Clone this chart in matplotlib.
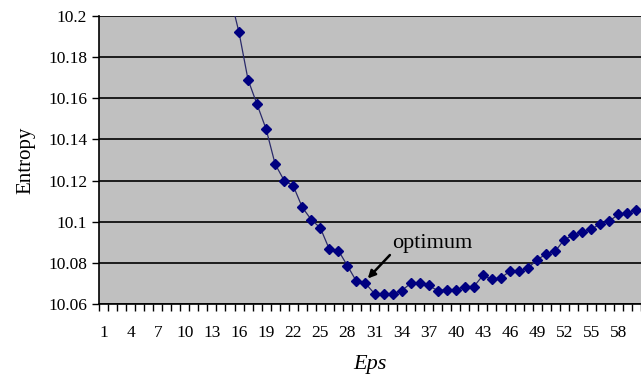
import numpy as np
import matplotlib.pyplot as plt
from matplotlib.ticker import FuncFormatter

# Entropy vs Eps (categories 1..60); points 1-14 lie above the visible range
eps = list(range(1, 61))
entropy = [None] * 14 + [
    10.210, 10.192, 10.169, 10.157, 10.145, 10.128, 10.120, 10.1175, 10.107, 10.101,
    10.097, 10.0866, 10.086, 10.0786, 10.071, 10.070, 10.065, 10.065, 10.065, 10.0665,
    10.070, 10.070, 10.069, 10.0665, 10.067, 10.067, 10.0685, 10.0685, 10.0739, 10.072,
    10.0727, 10.076, 10.076, 10.0775, 10.0815, 10.0843, 10.0856, 10.0913, 10.0934, 10.0948,
    10.0963, 10.099, 10.1003, 10.1036, 10.1041, 10.1057,
]
y_ticks = [10.06, 10.08, 10.1, 10.12, 10.14, 10.16, 10.18, 10.2]
x_labels = list(range(1, 61, 3))

plt.rcParams['font.family'] = ['Liberation Serif', 'DejaVu Serif']

fig = plt.figure(figsize=(6.41, 3.76), dpi=100)
ax = fig.add_axes([99 / 641, 1 - 304 / 376, 542 / 641, 288 / 376])
ax.set_facecolor('#c0c0c0')

y = np.array([np.nan if v is None else v for v in entropy])
ax.plot(eps, y, color='#2a2a6a', lw=0.9, marker='D', ms=5.2,
        mfc='#000080', mec='#000080', zorder=3)

ax.set_xlim(0.5, 60.5)
ax.set_ylim(10.06, 10.2)
ax.set_yticks(y_ticks)
ax.yaxis.set_major_formatter(FuncFormatter(lambda v, p: '%g' % round(v, 2)))
ax.grid(axis='y', color='black', lw=1.2)
ax.set_axisbelow(True)

# category axis: ticks between categories, labels every third category
ax.set_xticks(x_labels)
ax.set_xticklabels([str(v) for v in x_labels])
ax.set_xticks(np.arange(0.5, 61, 1), minor=True)
ax.tick_params(axis='x', which='major', length=0, pad=15, labelsize=12.5)
ax.tick_params(axis='x', which='minor', length=5, width=1, direction='out')
ax.tick_params(axis='y', length=5, width=1, direction='out', labelsize=12.5)

for s in ['top', 'right']:
    ax.spines[s].set_visible(False)
ax.spines['left'].set_color('black')
ax.spines['bottom'].set_color('black')
ax.spines['left'].set_linewidth(1.2)
ax.spines['bottom'].set_linewidth(1.2)

ax.set_ylabel('Entropy', fontsize=15, labelpad=9)
ax.set_xlabel('Eps', fontsize=16, style='italic', labelpad=10)

ax.text(33.0, 10.0893, 'optimum', fontsize=16, ha='left', va='center')
ax.annotate('', xy=(30.25, 10.0724), xytext=(32.7, 10.0838),
            arrowprops=dict(arrowstyle='-|>', color='black', lw=1.8,
                            mutation_scale=11, shrinkA=0, shrinkB=0))

fig.savefig('out.png', dpi=100)
